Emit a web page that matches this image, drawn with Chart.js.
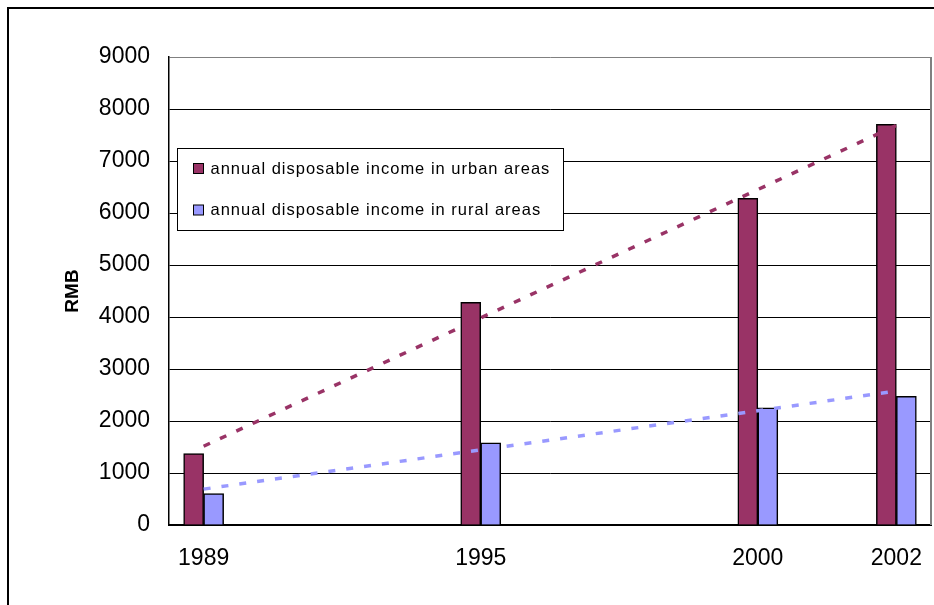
<!DOCTYPE html>
<html>
<head>
<meta charset="utf-8">
<script src="https://cdn.jsdelivr.net/npm/chart.js@4"></script>
<style>
    body { margin: 0; background: #fff; overflow: hidden; }
    canvas { display: block; }
</style>
</head>
<body>
<canvas id="myChart" width="934" height="605"></canvas>
<script>
// categories on the axis (blank ones are empty slots in the original sheet)
var categories = ['1989', '', '1995', '', '2000', '2002'];
var urbanIncome = [1374, null, 4283, null, 6280, 7703];
var ruralIncome = [602, null, 1578, null, 2253, 2476];
// trend line ends, first and last category
var urbanTrend = [1515, 7685];
var ruralTrend = [690, 2575];
var yTicks = [0, 1000, 2000, 3000, 4000, 5000, 6000, 7000, 8000, 9000];

var urbanLabel = 'annual disposable income in urban areas';
var ruralLabel = 'annual disposable income in rural areas';

var fontFamily = '"Liberation Sans", Arial, sans-serif';

function toPoints(values) {
    var pts = [];
    for (var i in values) {
        if (values[i] != null) pts.push({ x: Number(i), y: values[i] });
    }
    return pts;
}

function trendPoints(ends) {
    return [{ x: 0, y: ends[0] }, { x: categories.length - 1, y: ends[1] }];
}

var framePlugin = {
    id: 'frame',
    beforeDraw: function (chart) {
        var ctx = chart.ctx;
        ctx.save();
        ctx.fillStyle = '#fff';
        ctx.fillRect(0, 0, chart.width, chart.height);
        ctx.strokeStyle = '#000';
        ctx.lineWidth = 2;
        ctx.strokeRect(8, 8, 2000, 2000);
        ctx.restore();
    },
    beforeDatasetsDraw: function (chart) {
        var a = chart.chartArea;
        var ctx = chart.ctx;
        ctx.save();
        ctx.strokeStyle = '#808080';
        ctx.lineWidth = 2;
        ctx.beginPath();
        ctx.moveTo(a.right, a.top);
        ctx.lineTo(a.right, a.bottom);
        ctx.stroke();
        ctx.restore();
    }
};

var legendBoxPlugin = {
    id: 'legendBox',
    afterDraw: function (chart) {
        var a = chart.chartArea;
        var ctx = chart.ctx;
        var x = a.left + 8.5, y = a.top + 91.5;
        ctx.save();
        ctx.fillStyle = '#fff';
        ctx.strokeStyle = '#000';
        ctx.lineWidth = 1;
        ctx.fillRect(x, y, 386, 82);
        ctx.strokeRect(x, y, 386, 82);

        var items = chart.data.datasets.filter(function (d) { return d.type != 'line'; });
        ctx.font = '16.5px ' + fontFamily;
        ctx.letterSpacing = '1px';
        ctx.textBaseline = 'alphabetic';
        for (var i = 0; i < items.length; i++) {
            var rowY = y + 15 + i * 41.5;
            ctx.fillStyle = items[i].backgroundColor;
            ctx.fillRect(x + 16, rowY, 10, 10);
            ctx.strokeRect(x + 16, rowY, 10, 10);
            ctx.fillStyle = '#000';
            ctx.fillText(items[i].label, x + 33, rowY + 10);
        }
        ctx.restore();
    }
};

var ctx = document.getElementById('myChart').getContext('2d');
var myChart = new Chart(ctx, {
    type: 'bar',
    data: {
        datasets: [{
            label: urbanLabel,
            data: toPoints(urbanIncome),
            backgroundColor: '#993366',
            borderColor: '#000',
            borderWidth: 1.5,
            barThickness: 20,
            order: 1
        }, {
            label: ruralLabel,
            data: toPoints(ruralIncome),
            backgroundColor: '#9999FF',
            borderColor: '#000',
            borderWidth: 1.5,
            barThickness: 20,
            order: 1
        }, {
            type: 'line',
            label: 'urban trend',
            data: trendPoints(urbanTrend),
            borderColor: '#993366',
            borderWidth: 3.5,
            borderDash: [7, 11],
            pointRadius: 0,
            fill: false,
            order: 0
        }, {
            type: 'line',
            label: 'rural trend',
            data: trendPoints(ruralTrend),
            borderColor: '#9999FF',
            borderWidth: 3.5,
            borderDash: [7, 11],
            pointRadius: 0,
            fill: false,
            order: 0
        }]
    },
    options: {
        responsive: false,
        devicePixelRatio: 1,
        animation: false,
        layout: { padding: { top: 57, right: 3, bottom: 0, left: 0 } },
        plugins: {
            legend: { display: false },
            tooltip: { enabled: false }
        },
        scales: {
            x: {
                type: 'linear',
                offset: false,
                min: -0.25,
                max: categories.length - 0.75,
                grid: { display: false, drawTicks: false },
                border: { display: true, color: '#000', width: 2 },
                afterBuildTicks: function (scale) {
                    var t = [];
                    for (var i in categories) {
                        if (categories[i] !== '') t.push({ value: Number(i) });
                    }
                    scale.ticks = t;
                },
                ticks: {
                    autoSkip: false,
                    maxRotation: 0,
                    padding: 20,
                    color: '#000',
                    font: { family: fontFamily, size: 23 },
                    callback: function (v) { return categories[v]; }
                },
                afterFit: function (scale) {
                    scale.height = 80;
                    scale.paddingLeft = 0;
                    scale.paddingRight = 0;
                }
            },
            y: {
                min: 0,
                max: 9000,
                afterBuildTicks: function (scale) {
                    scale.ticks = yTicks.map(function (v) { return { value: v }; });
                },
                grid: {
                    drawTicks: false,
                    color: function (c) { return c.tick && c.tick.value == 9000 ? '#808080' : '#000'; },
                    lineWidth: 1
                },
                border: { display: true, color: '#000', width: 1.5 },
                ticks: {
                    padding: 19,
                    color: '#000',
                    font: { family: fontFamily, size: 23 },
                    callback: function (v) { return String(v); }
                },
                title: {
                    display: true,
                    text: 'RMB',
                    color: '#000',
                    padding: { top: 61, bottom: 0 },
                    font: { family: fontFamily, size: 19, weight: 'bold' }
                },
                afterFit: function (scale) { scale.width = 169; }
            }
        }
    },
    plugins: [framePlugin, legendBoxPlugin]
});
</script>
</body>
</html>
